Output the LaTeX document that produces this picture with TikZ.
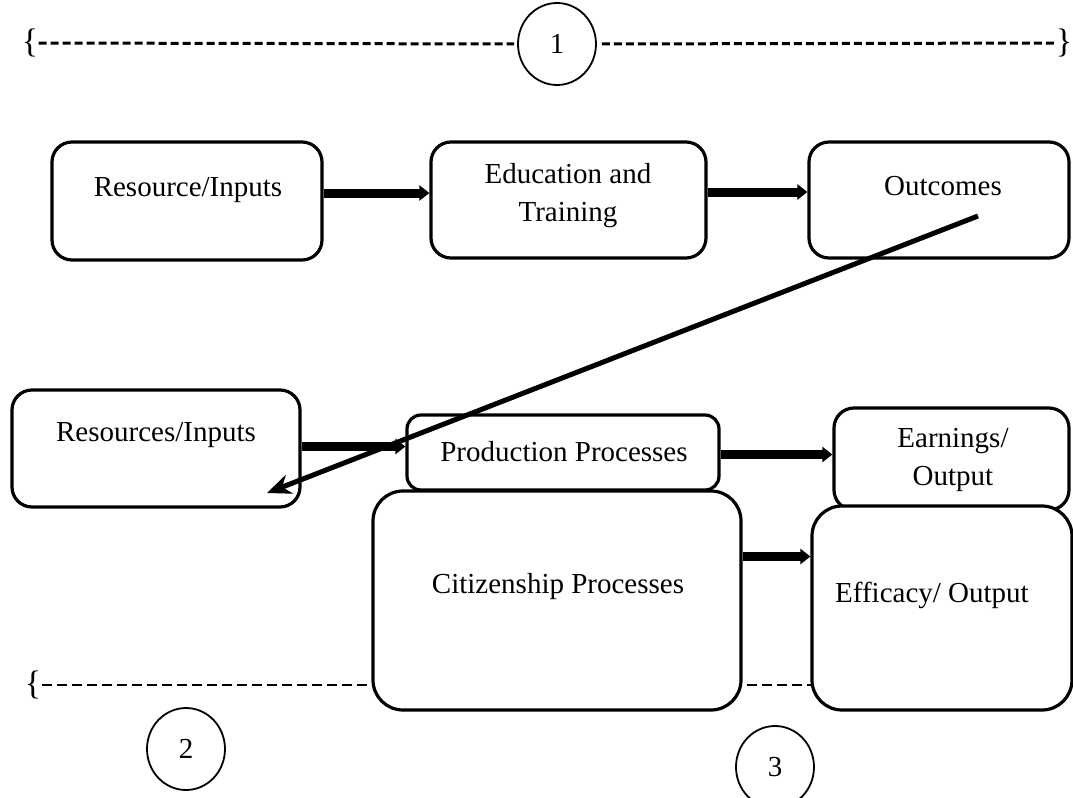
\documentclass[tikz,border=0pt]{standalone}
\usepackage{fontspec}
\setmainfont{Liberation Serif}
\usetikzlibrary{arrows.meta,shapes.geometric}

\tikzstyle{every node}=[font={\fontsize{14.5}{19}\selectfont}, align=center, inner sep=0pt]
\tikzstyle{block}=[draw=black, line width=1.6pt, fill=white, rounded corners=10pt]
\tikzstyle{bigblock}=[block, rounded corners=15pt]
\tikzstyle{smallblock}=[block, rounded corners=7pt]
\tikzstyle{number}=[draw=black, line width=0.9pt, ellipse, minimum width=39pt, minimum height=41pt]
\tikzstyle{brace}=[font={\fontsize{17}{20}\selectfont}]
\tikzstyle{topdash}=[line width=1.5pt, dash pattern=on 4pt off 2pt]
\tikzstyle{lowdash}=[line width=1pt, dash pattern=on 5pt off 2.5pt]
\tikzstyle{flow}=[line width=4.5pt, -{Triangle[length=5pt,width=7.5pt]}]
\tikzstyle{feedback}=[line width=2.5pt, -{Stealth[length=12pt,width=10pt]}]

\begin{document}
\begin{tikzpicture}[x=0.5pt, y=-0.5pt]
    \useasboundingbox (0,0) rectangle (1073,798);

    % stage 1 marker
    \node [brace] (lbrace) at (30,43) {\{};
    \node [brace] (rbrace) at (1064,43) {\}};
    \node [number] (one) at (557,44) {1};
    \draw [topdash, shorten >=1.5pt] (lbrace.east) -- (one.west);
    \draw [topdash, shorten <=2.5pt] (one.east) -- (rbrace.west);

    % education chain
    \node [block, minimum width=135pt, minimum height=59pt] (resA) at (187,201) {};
    \node [block, minimum width=137.5pt, minimum height=58pt] (edu) at (568.5,200) {};
    \node [block, minimum width=130pt, minimum height=58pt] (outc) at (939,200) {};
    \node (resAtext) at (188,190) {Resource/Inputs};
    \node (edutext) at (568,196) {Education and\\Training};
    \node (outctext) at (943,186) {Outcomes};
    \draw [flow] ([yshift=4pt]resA.east) -- ([yshift=4pt]resA.east -| edu.west);
    \draw [flow] ([yshift=4pt]edu.east) -- ([yshift=4pt]edu.east -| outc.west);

    % production chain
    \node [block, minimum width=144pt, minimum height=58.5pt] (resB) at (156,448.5) {};
    \node [smallblock, minimum width=156pt, minimum height=37.5pt] (prod) at (563,452.5) {};
    \node [block, minimum width=117.5pt, minimum height=51pt] (earn) at (951.5,459) {};

    % stage 2/3 marker
    \node [brace] (lbraceB) at (33,685) {\{};
    \coordinate (dashend) at (812,685);
    \draw [lowdash] (lbraceB.east) -- (dashend);

    \node [bigblock, minimum width=184pt, minimum height=109.5pt] (citiz) at (557,600.5) {};
    \node [bigblock, minimum width=130pt, minimum height=102pt] (effic) at (942,608) {};

    \node (resBtext) at (156,435) {Resources/Inputs};
    \node (prodtext) at (564,452) {Production Processes};
    \node (earntext) at (953,460) {Earnings/\\Output};
    \node (citiztext) at (558,587) {Citizenship Processes};
    \node (effictext) at (932,595) {Efficacy/ Output};

    \draw [flow] ([yshift=1pt]resB.east) -- ([yshift=1pt]resB.east -| prod.west);
    \draw [flow] ([yshift=-1pt]prod.east) -- ([yshift=-1pt]prod.east -| earn.west);
    \draw [flow] ([yshift=22pt]citiz.east) -- ([yshift=22pt]citiz.east -| effic.west);

    \node [number] (two) at (186,749) {2};
    \node [number] (three) at (775,767) {3};

    % outcomes feed back into resources
    \coordinate (fbstart) at (978,216);
    \coordinate (fbend) at (267,493);
    \draw [feedback] (fbstart) -- (fbend);
\end{tikzpicture}
\end{document}
